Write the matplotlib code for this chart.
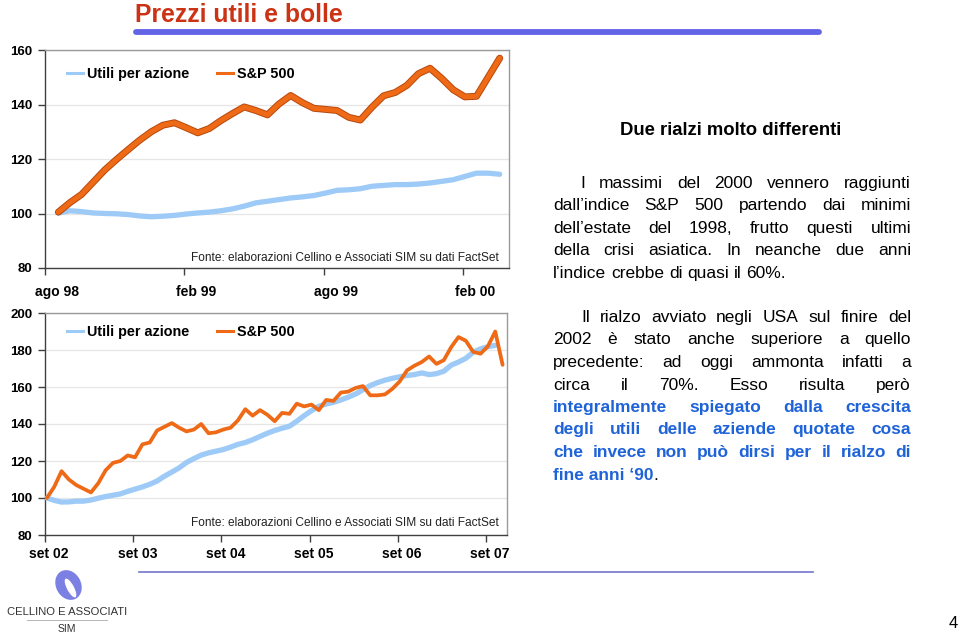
import matplotlib
matplotlib.use('Agg')
import matplotlib.pyplot as plt
import matplotlib.patheffects as pe
from matplotlib.lines import Line2D
from matplotlib.patches import Ellipse
import numpy as np

plt.rcParams['font.family'] = ['Liberation Sans', 'DejaVu Sans']

# ---------------- data ----------------
top_labels = ['ago 98', 'feb 99', 'ago 99', 'feb 00']
top_sp500 = [100.5, 104, 107, 111.5, 116, 119.8, 123.4, 126.9, 130, 132.4,
             133.3, 131.5, 129.6, 131.2, 134.1, 136.7, 139.1, 137.8, 136.2, 140.2,
             143.3, 140.7, 138.6, 138.2, 137.8, 135.3, 134.3, 139, 143.2, 144.4,
             147, 151.3, 153.3, 149.6, 145.4, 142.8, 143, 150, 157]
top_eps = [100.2, 101, 100.7, 100.2, 100, 99.9, 99.6, 99.1, 98.8, 99,
           99.3, 99.8, 100.2, 100.5, 101, 101.7, 102.7, 103.9, 104.5, 105.1,
           105.7, 106.1, 106.6, 107.5, 108.5, 108.7, 109.1, 110, 110.3, 110.6,
           110.6, 110.8, 111.2, 111.8, 112.4, 113.6, 114.8, 114.8, 114.4]

bot_labels = ['set 02', 'set 03', 'set 04', 'set 05', 'set 06', 'set 07']
bot_sp500 = [100, 106, 114.5, 110, 107, 105, 103, 108, 115, 119,
             120, 123, 122, 129, 130, 136.5, 138.5, 140.5, 138, 136,
             137, 140, 135, 135.5, 137, 138, 142, 148, 144.5, 147.5,
             145, 141.5, 146, 145.5, 151, 149.5, 150.5, 147.5, 153, 152.5,
             157, 157.5, 159.5, 160.5, 155.5, 155.5, 156, 159, 163, 169,
             171.5, 173.5, 176.5, 172.5, 174.5, 181.5, 187, 185, 179, 178,
             182, 190, 172]
bot_eps = [100, 98.7, 97.8, 97.9, 98.3, 98.3, 98.9, 99.9, 100.8, 101.5,
           102.2, 103.6, 104.8, 106, 107.4, 109.2, 111.8, 114, 116.3, 119.2,
           121.3, 123.2, 124.4, 125.3, 126.2, 127.5, 129, 130, 131.5, 133.3,
           135, 136.5, 137.7, 138.8, 141.5, 144.5, 147.2, 149.6, 150.8, 151.7,
           153, 154.5, 156.2, 158.5, 160.8, 162.4, 163.7, 164.7, 165.5, 166.2,
           166.7, 167.6, 166.7, 167.2, 168.5, 171.8, 173.5, 175.5, 178.8, 180.6,
           181.8, 182.5]

series_names = ['Utili per azione', 'S&P 500']
source = 'Fonte: elaborazioni Cellino e Associati SIM su dati FactSet'

# ---------------- figure ----------------
W, H = 960, 636
fig = plt.figure(figsize=(9.6, 6.36), dpi=100)
fig.patch.set_facecolor('white')

BLUE = '#9DCAF6'
ORANGE = '#EE6A16'
ORANGE_DARK = '#B8480C'


def ax_rect(l, t, r, b):
    return [l / W, 1 - b / H, (r - l) / W, (b - t) / H]


def style_axes(ax, ylim, ystep, xlim, tick0, label0, step, labels, xpad):
    ax.set_xlim(*xlim)
    ax.set_ylim(*ylim)
    yt = np.arange(ylim[0], ylim[1] + 1, ystep)
    ax.set_yticks(yt)
    ax.set_yticklabels([f'{int(v)}' for v in yt], fontweight='bold', fontsize=9.5)
    ax.grid(axis='y', color='#E6E6E6', lw=0.9)
    ax.set_axisbelow(True)
    ax.set_xticks([tick0 + step * i for i in range(len(labels))])
    ax.set_xticklabels([''] * len(labels))
    ax.set_xticks([label0 + step * i for i in range(len(labels))], minor=True)
    ax.set_xticklabels(labels, minor=True, fontweight='bold', fontsize=10)
    ax.tick_params(axis='x', which='minor', length=0, pad=xpad)
    ax.tick_params(axis='x', which='major', length=5, width=1, color='#404040')
    ax.tick_params(axis='y', length=5, width=1, pad=4, color='#404040')
    for s in ('left', 'bottom'):
        ax.spines[s].set_color('#404040')
        ax.spines[s].set_linewidth(1.0)
    for s in ('top', 'right'):
        ax.spines[s].set_color('#9A9A9A')
        ax.spines[s].set_linewidth(1.0)
    handles = [Line2D([], [], color=BLUE, lw=2.2), Line2D([], [], color=ORANGE, lw=2.2)]
    return handles


# ---- top chart ----
ax1 = fig.add_axes(ax_rect(45, 50, 509, 268))
x1 = np.arange(len(top_sp500))
ax1.plot(x1, top_eps, color=BLUE, lw=3.8, solid_capstyle='round', zorder=3)
ax1.plot(x1, top_sp500, color=ORANGE, lw=3.6, solid_capstyle='round', zorder=4,
         path_effects=[pe.Stroke(linewidth=5.0, foreground=ORANGE_DARK), pe.Normal()])
h = style_axes(ax1, (80, 160), 20, (-1.15, 38.8), -1.15, -0.1, 12, top_labels, 12)
ax1.legend(h, series_names, loc='center left', bbox_to_anchor=(0.047, 0.89),
           frameon=False, ncol=2, handlelength=1.1, handletextpad=0.3,
           columnspacing=1.9, borderpad=0, borderaxespad=0,
           prop={'weight': 'bold', 'size': 10.4})
ax1.text(0.978, 0.045, source, transform=ax1.transAxes, ha='right', va='center',
         fontsize=8.6, color='#222222')

# ---- bottom chart ----
ax2 = fig.add_axes(ax_rect(45, 313, 507, 535))
x2 = np.arange(len(bot_sp500))
ax2.plot(np.arange(len(bot_eps)), bot_eps, color=BLUE, lw=3.8, solid_capstyle='round', zorder=3)
ax2.plot(x2, bot_sp500, color=ORANGE, lw=2.7, solid_capstyle='round', zorder=4)
h = style_axes(ax2, (80, 200), 20, (-0.25, 62.6), -0.25, 0.3, 12, bot_labels, 9)
ax2.legend(h, series_names, loc='center left', bbox_to_anchor=(0.048, 0.914),
           frameon=False, ncol=2, handlelength=1.1, handletextpad=0.3,
           columnspacing=1.9, borderpad=0, borderaxespad=0,
           prop={'weight': 'bold', 'size': 10.4})
ax2.text(0.982, 0.054, source, transform=ax2.transAxes, ha='right', va='center',
         fontsize=8.6, color='#222222')

# ---------------- slide decorations (pixel coords) ----------------
bg = fig.add_axes([0, 0, 1, 1], zorder=10)
bg.set_xlim(0, W)
bg.set_ylim(H, 0)
bg.axis('off')
bg.patch.set_alpha(0)

bg.text(135, 22, 'Prezzi utili e bolle', fontsize=17.8, fontweight='bold',
        color='#CC3314', va='baseline', ha='left')
bg.plot([136, 819], [31.5, 31.5], color='#6363E6', lw=4.2, solid_capstyle='round')
bg.plot([139, 813], [572, 572], color='#7474CE', lw=1.2)

bg.text(731, 135, 'Due rialzi molto differenti', fontsize=13.3, fontweight='bold',
        ha='center', va='baseline', color='black')

renderer = fig.canvas.get_renderer()
BODY = 12.5
LEFT, RIGHT = 553, 911
TEXT_BLUE = '#1F63D8'


def wwidth(s, **kw):
    t = bg.text(0, 0, s, fontsize=BODY, **kw)
    w = t.get_window_extent(renderer).width
    t.remove()
    return w


def place_line(words, y, x0, justify):
    # words: list of (text, style dict)
    widths = [wwidth(w, **st) for w, st in words]
    if justify and len(words) > 1:
        gap = (RIGHT - x0 - sum(widths)) / (len(words) - 1)
    else:
        gap = wwidth('a a') - wwidth('aa')
    x = x0
    for (w, st), wd in zip(words, widths):
        bg.text(x, y, w, fontsize=BODY, va='baseline', ha='left', **st)
        x += wd + gap


normal = {'color': 'black'}
bold_blue = {'color': TEXT_BLUE, 'fontweight': 'bold'}

para1 = ['I massimi del 2000 vennero raggiunti',
         'dall\u2019indice S&P 500 partendo dai minimi',
         'dell\u2019estate del 1998, frutto questi ultimi',
         'della crisi asiatica. In neanche due anni',
         'l\u2019indice crebbe di quasi il 60%.']
for i, line in enumerate(para1):
    y = round(188 + 22.4 * i)
    x0 = 580 if i == 0 else LEFT
    place_line([(w, normal) for w in line.split()], y, x0, i < len(para1) - 1)

para2 = [('Il rialzo avviato negli USA sul finire del', normal),
         ('2002 è stato anche superiore a quello', normal),
         ('precedente: ad oggi ammonta infatti a', normal),
         ('circa il 70%. Esso risulta però', normal),
         ('integralmente spiegato dalla crescita', bold_blue),
         ('degli utili delle aziende quotate cosa', bold_blue),
         ('che invece non può dirsi per il rialzo di', bold_blue)]
for i, (line, st) in enumerate(para2):
    y = round(322 + 22.5 * i)
    x0 = 581 if i == 0 else LEFT
    place_line([(w, st) for w in line.split()], y, x0, True)
# last line: bold blue + normal period
y = round(322 + 22.5 * len(para2))
last = 'fine anni \u201890'
bg.text(LEFT, y, last, fontsize=BODY, va='baseline', ha='left', **bold_blue)
bg.text(LEFT + wwidth(last, **bold_blue), y, '.', fontsize=BODY, va='baseline',
        ha='left', **normal)

# logo
bg.add_patch(Ellipse((68.5, 585), 25, 31, angle=-28, color='#7C80E2', lw=0))
bg.add_patch(Ellipse((70.5, 588), 7, 21, angle=-28, color='white', lw=0))
logo_font = ['Liberation Sans Narrow', 'Liberation Sans', 'DejaVu Sans']
bg.text(67, 615, 'CELLINO E ASSOCIATI', family=logo_font, fontsize=8.1,
        ha='center', va='baseline', color='#333333')
bg.plot([27, 107], [620, 620], color='#AAAAAA', lw=0.6)
bg.text(67, 632, 'SIM', family=logo_font, fontsize=7.5, ha='center',
        va='baseline', color='#333333')

bg.text(953, 628, '4', family=logo_font, fontsize=12, ha='center', va='baseline',
        color='black')

fig.savefig('out.png', dpi=100, facecolor='white')
